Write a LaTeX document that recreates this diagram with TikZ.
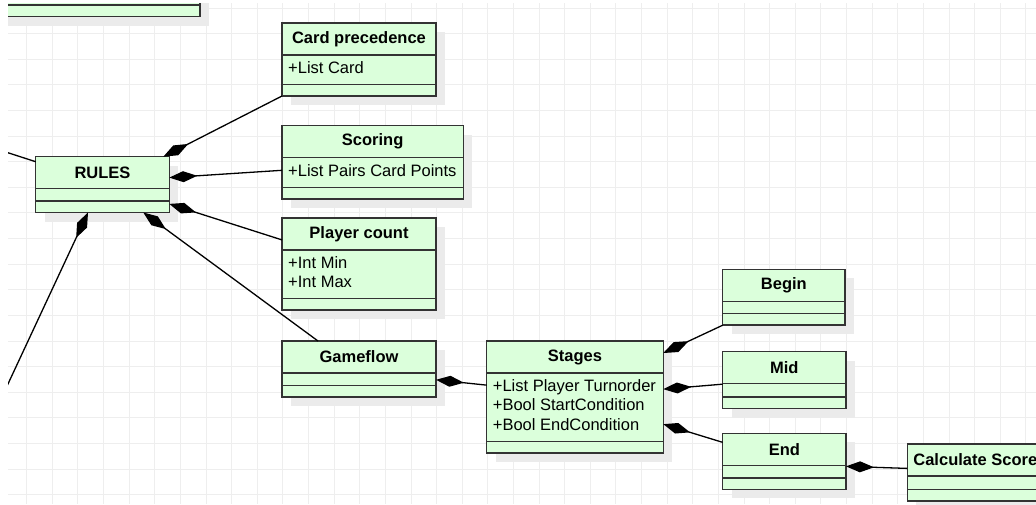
\documentclass[tikz,border=0pt]{standalone}
\usepackage{fontspec}
\setmainfont{Liberation Sans}
\usetikzlibrary{arrows.meta,calc}

\definecolor{classfill}{HTML}{DBFFDB}
\definecolor{classline}{HTML}{333333}
\definecolor{shadowgray}{HTML}{EBEBEB}
\definecolor{gridgray}{HTML}{EEEEEE}

\tikzset{
  classbox/.style={draw=classline, fill=classfill, line width=1.5pt, inner sep=0pt, outer sep=0pt},
  classsep/.style={draw=classline, line width=1.5pt},
  classtitle/.style={font=\fontsize{16.5}{19}\selectfont\bfseries, inner sep=0pt},
  classattr/.style={font=\fontsize{16.5}{19}\selectfont, inner sep=0pt, anchor=base west},
  composition/.style={{Diamond[length=28pt,width=11pt]}-, line width=1.3pt, draw=black},
  gridline/.style={draw=gridgray, line width=1pt},
}

\def\umlclass(#1,#2,#3,#4,#5,#6,#7){
  \fill[shadowgray] (#2+9,#3+9) rectangle ++(#4,43.5+#5);
  \node[classbox, minimum width=#4, minimum height=43.5+#5, anchor=north west] (#1) at (#2,#3) {};
  \draw[classsep] (#2,#3+32) -- ++(#4,0);
  \draw[classsep] (#2,#3+32+#5) -- ++(#4,0);
  \node[classtitle] at (#2+#4/2,#3+16) {#6};
  \foreach \attr [count=\i] in {#7} {
    \node[classattr] at (#2+6,#3+32+18.5+\i*19.3-19.3) {\attr};
  }
}

\begin{document}
\begin{tikzpicture}[x=1pt,y=-1pt]
\useasboundingbox (0,0) rectangle (1036,504);
\fill[white] (0,0) rectangle (1036,504);
\begin{scope}
\clip (8,3) rectangle (1036,504);
\foreach \gx in {0,...,39} \draw[gridline] (26.7+\gx*25.62,3) -- ++(0,501);
\foreach \gy in {0,...,19} \draw[gridline] (8,8+\gy*25.62) -- ++(1028,0);

\umlclass(partbox,-90,-50,290,23,,)
\umlclass(card,282,23,154,29.5,Card precedence,{+List Card})
\umlclass(scoring,282,125.7,181.3,29.7,Scoring,{+List Pairs Card Points})
\umlclass(players,282,218,154,48.3,Player count,{+Int Min,+Int Max})
\umlclass(gameflow,282,341,154,12.7,Gameflow,)
\umlclass(rules,35.7,156.7,133.6,12.3,RULES,)
\umlclass(stages,486.7,341,176.6,68.4,Stages,{+List Player Turnorder,+Bool StartCondition,+Bool EndCondition})
\umlclass(stagebegin,722.7,269.3,122.3,12.4,Begin,)
\umlclass(stagemid,722.7,351.7,123.3,13.4,Mid,)
\umlclass(stageend,722.7,433.3,123.3,12.6,End,)
\umlclass(score,907.3,444,136,13.3,Calculate Score,)

\coordinate (offleft) at (-20,143.7);
\coordinate (offbelow) at (-10,422.5);
\draw[line width=1.3pt] (offleft) -- ([yshift=-5]rules.north west);
\draw[composition] ([xshift=-6]rules.north east) -- (card.south west);
\draw[composition] ([yshift=7]rules.east) -- ([yshift=-8]scoring.west);
\draw[composition] ([yshift=-19.3]rules.east) -- ([yshift=24]players.west);
\draw[composition] ([xshift=-26]rules.south east) -- ([xshift=36]gameflow.north west);
\draw[composition] ([xshift=52.3]rules.south west) -- (offbelow);
\draw[composition] ([yshift=-10.7]gameflow.east) -- ([yshift=11.8]stages.west);
\draw[composition] ([yshift=-12]stages.north east) -- (stagebegin.south west);
\draw[composition] ([yshift=7.8]stages.east) -- ([yshift=-4]stagemid.west);
\draw[composition] ([yshift=-27.2]stages.east) -- ([yshift=19]stageend.west);
\draw[composition] ([yshift=-5]stageend.east) -- ([yshift=4]score.west);
\end{scope}
\end{tikzpicture}
\end{document}
